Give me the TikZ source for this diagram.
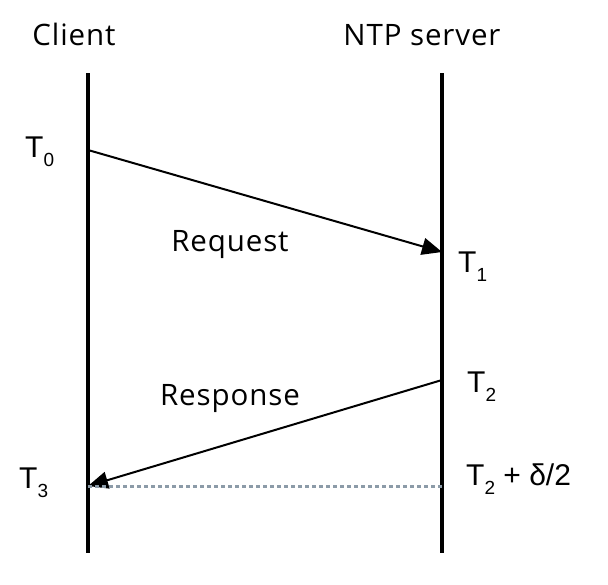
\documentclass[tikz,border=0pt]{standalone}
\usepackage{fontspec}
\setsansfont[LetterSpace=3]{Open Sans}
\newfontfamily\stampfont{Liberation Sans}
\usetikzlibrary{positioning,arrows.meta}
\tikzset{every picture/.style={/utils/exec={\sffamily}}}
\newcommand{\tsub}[1]{\raisebox{-0.3em}{\fontsize{19}{19}\selectfont #1}}

\begin{document}
\begin{tikzpicture}[x=1pt, y=-1pt,
  timeline/.style={line width=3.5pt},
  msg/.style={line width=2pt, -{Triangle[length=20pt,width=17pt]}},
  stamp/.style={font=\stampfont\fontsize{30}{36}\selectfont, inner sep=0pt},
  head/.style={font=\fontsize{29.5}{35}\selectfont, inner sep=0pt, anchor=base},
  ]
  \useasboundingbox (0,0) rectangle (608,584);

  % the two time lines
  \coordinate (ctop) at (88,73);
  \coordinate (cbot) at (88,553);
  \coordinate (stop) at (442,73);
  \coordinate (sbot) at (442,553);
  \draw [timeline] (ctop) -- (cbot);
  \draw [timeline] (stop) -- (sbot);

  \node [head] (client) at (74,45) {Client};
  \node [head] (server) at (422,45) {NTP server};

  % time stamps on the lines
  \coordinate (t0) at (88,150);
  \coordinate (t1) at (442,252);
  \coordinate (t2) at (442,380);
  \coordinate (t3) at (88,486);
  \coordinate (t2d) at (442,486);

  \node [stamp, anchor=base west] (T0) at (25,157) {T\tsub{0}};
  \node [stamp, anchor=base west] (T1) at (458,272) {T\tsub{1}};
  \node [stamp, anchor=base west] (T2) at (467,392) {T\tsub{2}};
  \node [stamp, anchor=base west] (T3) at (19,488) {T\tsub{3}};
  \node [stamp, anchor=base west] (T2d) at (466,485) {T\tsub{2} + δ/2};

  % messages
  \draw [msg] (t0) -- (t1);
  \draw [msg] (t2) -- (t3);
  \node [head] (req) at (230,251) {Request};
  \node [head] (resp) at (230,405) {Response};

  \draw [line width=3pt, color={rgb,255:red,140;green,155;blue,168},
    dash pattern=on 4pt off 3pt] (t3) -- (t2d);
\end{tikzpicture}
\end{document}
